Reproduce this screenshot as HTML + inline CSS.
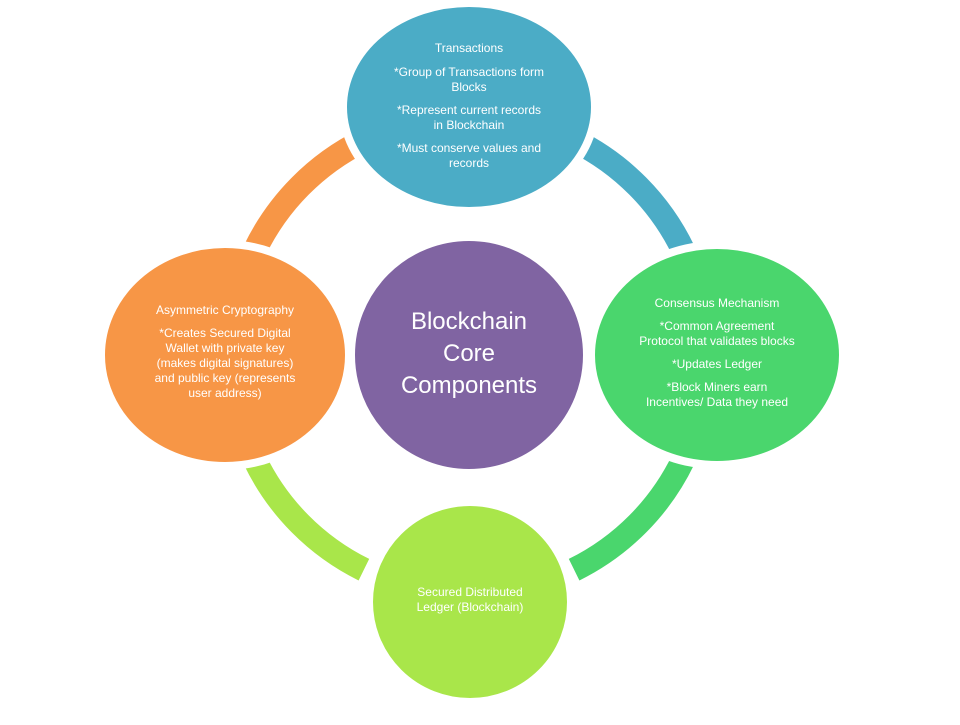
<!DOCTYPE html>
<html><head><meta charset="utf-8"><style>
body{margin:0;background:#fff;}
svg text{font-family:"Liberation Sans",sans-serif;fill:#fff;text-anchor:middle;}
</style></head><body>
<svg width="960" height="720" viewBox="0 0 960 720">
<g fill="none" stroke-width="24">
<path d="M254.8,250.3 A238,238 0 0 1 363.9,140.3" stroke="#f79646"/>
<path d="M574.1,140.3 A238,238 0 0 1 683.2,250.3" stroke="#4bacc6"/>
<path d="M683.2,459.7 A238,238 0 0 1 574.1,569.7" stroke="#4ad66d"/>
<path d="M363.9,569.7 A238,238 0 0 1 254.8,459.7" stroke="#a9e64a"/>
</g>
<g fill="#fff">
<ellipse cx="469" cy="107" rx="130" ry="108"/>
<ellipse cx="225" cy="355" rx="128" ry="115"/>
<ellipse cx="717" cy="355" rx="130" ry="114"/>
<ellipse cx="470" cy="602" rx="105" ry="104"/>
</g>
<g stroke="#fff" stroke-width="2">
<ellipse cx="469" cy="107" rx="123" ry="101" fill="#4bacc6"/>
<ellipse cx="225" cy="355" rx="121" ry="108" fill="#f79646"/>
<ellipse cx="717" cy="355" rx="123" ry="107" fill="#4ad66d"/>
<ellipse cx="470" cy="602" rx="98" ry="97" fill="#a9e64a"/>
<circle cx="469" cy="355" r="115" fill="#8064a2"/>
</g>
<g font-size="12">
<text x="469" y="52">Transactions</text>
<text x="469" y="76">*Group of Transactions form</text>
<text x="469" y="91">Blocks</text>
<text x="469" y="114">*Represent current records</text>
<text x="469" y="129">in Blockchain</text>
<text x="469" y="152">*Must conserve values and</text>
<text x="469" y="167">records</text>
<text x="225" y="314">Asymmetric Cryptography</text>
<text x="225" y="337">*Creates Secured Digital</text>
<text x="225" y="352">Wallet with private key</text>
<text x="225" y="367">(makes digital signatures)</text>
<text x="225" y="382">and public key (represents</text>
<text x="225" y="397">user address)</text>
<text x="717" y="307">Consensus Mechanism</text>
<text x="717" y="330">*Common Agreement</text>
<text x="717" y="345">Protocol that validates blocks</text>
<text x="717" y="368">*Updates Ledger</text>
<text x="717" y="391">*Block Miners earn</text>
<text x="717" y="406">Incentives/ Data they need</text>
<text x="470" y="596">Secured Distributed</text>
<text x="470" y="611">Ledger (Blockchain)</text>
</g>
<g font-size="24">
<text x="469" y="329">Blockchain</text>
<text x="469" y="361">Core</text>
<text x="469" y="393">Components</text>
</g>
</svg>
</body></html>
